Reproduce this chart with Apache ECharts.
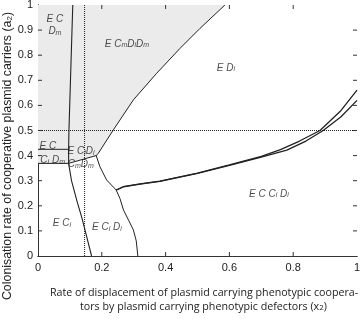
<!DOCTYPE html>
<html>
<head>
<meta charset="utf-8">
<script src="https://cdn.jsdelivr.net/npm/echarts@6/dist/echarts.min.js"></script>
<style>
  html, body { margin: 0; padding: 0; background: #fff; }
  #chart { width: 360px; height: 319px; }
</style>
</head>
<body>
<div id="chart"></div>
<script>
// Region boundaries (x2, a2)
const grayRegion = [
  [0, 1], [0.586, 1], [0.508, 0.907], [0.445, 0.827], [0.372, 0.728],
  [0.299, 0.622], [0.236, 0.502], [0.189, 0.409], [0.182, 0.40],
  [0.097, 0.369], [0, 0.369]
];
const nearVertical = [
  [0.109, 1], [0.103, 0.75], [0.097, 0.5], [0.096, 0.425], [0.096, 0.369],
  [0.105, 0.3], [0.122, 0.22], [0.138, 0.15], [0.152, 0.08], [0.168, 0]
];
const upperStep = [[0, 0.425], [0.096, 0.425]];
const lowerStep = [[0, 0.369], [0.096, 0.369], [0.182, 0.40]];
const diagonal = [
  [0.182, 0.40], [0.189, 0.409], [0.236, 0.502], [0.299, 0.622],
  [0.372, 0.728], [0.445, 0.827], [0.508, 0.907], [0.586, 1]
];
const junctionDown = [
  [0.182, 0.402], [0.194, 0.356], [0.215, 0.303], [0.245, 0.263],
  [0.257, 0.229], [0.268, 0.183], [0.285, 0.14], [0.299, 0.104],
  [0.308, 0.06], [0.313, 0]
];
const rightCurveA = [
  [0.245, 0.263], [0.267, 0.276], [0.32, 0.287], [0.382, 0.298],
  [0.5, 0.33], [0.6, 0.363], [0.7, 0.397], [0.76, 0.424], [0.82, 0.458],
  [0.884, 0.5], [0.95, 0.58], [1, 0.661]
];
const rightCurveB = [
  [0.245, 0.262], [0.267, 0.275], [0.32, 0.286], [0.382, 0.297],
  [0.5, 0.329], [0.6, 0.361], [0.7, 0.394], [0.78, 0.422], [0.84, 0.458],
  [0.894, 0.5], [0.95, 0.555], [1, 0.62]
];
const dottedX = [[0.146, 0], [0.146, 1]];
const dottedY = [[0, 0.5], [1, 0.5]];

const xTicks = [0.2, 0.4, 0.6, 0.8];
const yTicks = [0.1, 0.2, 0.3, 0.4, 0.5, 0.6, 0.7, 0.8, 0.9];

// Region names: [x, y, text]
const regionLabels = [
  [0.053, 0.948, '{i|E C}'],
  [0.053, 0.90, '{i|D}{s|m}'],
  [0.279, 0.849, '{i|E C}{s|m}{i|D}{s|i}{i|D}{s|m}'],
  [0.589, 0.753, '{i|E D}{s|i}'],
  [0.031, 0.440, '{i|E C}'],
  [0.046, 0.386, '{i|C}{s|i}{i| D}{s|m}'],
  [0.135, 0.420, '{i|E C}{s|i}{i|D}{s|i}'],
  [0.134, 0.370, '{i|C}{s|m}{i|D}{s|m}'],
  [0.075, 0.135, '{i|E C}{s|i}'],
  [0.216, 0.118, '{i|E C}{s|i}{i| D}{s|i}'],
  [0.724, 0.251, '{i|E C C}{s|i}{i| D}{s|i}']
];

const chart = echarts.init(document.getElementById('chart'));

const lineSeries = (data, width, type) => ({
  type: 'line',
  data: data,
  showSymbol: false,
  symbol: 'none',
  smooth: false,
  silent: true,
  lineStyle: { color: '#222', width: width, type: type || 'solid' },
  z: 3
});

// inward ticks on all four sides (axisTick.inside did not flip them here)
const TICK = 4;
const tickSeries = (values, vertical) => ({
  type: 'custom',
  silent: true,
  z: 6,
  data: values.map((v) => [v, v]),
  renderItem: (params, api) => {
    const v = api.value(0);
    const a = vertical ? api.coord([0, v]) : api.coord([v, 0]);
    const b = vertical ? api.coord([1, v]) : api.coord([v, 1]);
    const style = { stroke: '#333', lineWidth: 1 };
    return {
      type: 'group',
      children: vertical
        ? [
            { type: 'line', shape: { x1: a[0], y1: a[1], x2: a[0] + TICK, y2: a[1] }, style },
            { type: 'line', shape: { x1: b[0], y1: b[1], x2: b[0] - TICK, y2: b[1] }, style }
          ]
        : [
            { type: 'line', shape: { x1: a[0], y1: a[1], x2: a[0], y2: a[1] - TICK }, style },
            { type: 'line', shape: { x1: b[0], y1: b[1], x2: b[0], y2: b[1] + TICK }, style }
          ]
    };
  }
});

const tickLabel = { fontFamily: 'Liberation Sans', fontSize: 11, color: '#222' };

chart.setOption({
  animation: false,
  grid: { left: 38, right: 3, top: 5, bottom: 63, outerBoundsMode: 'none', containLabel: false },
  xAxis: [
    {
      type: 'value', min: 0, max: 1, interval: 0.2,
      axisLine: { lineStyle: { color: '#333' } },
      axisTick: { show: false },
      axisLabel: { ...tickLabel, margin: 6, formatter: (v) => String(v) },
      splitLine: { show: false }
    },
    {
      type: 'value', min: 0, max: 1, interval: 0.2, position: 'top',
      axisLine: { lineStyle: { color: '#333' } },
      axisTick: { show: false },
      axisLabel: { show: false },
      splitLine: { show: false }
    }
  ],
  yAxis: [
    {
      type: 'value', min: 0, max: 1, interval: 0.1,
      axisLine: { show: true, lineStyle: { color: '#333' } },
      axisTick: { show: false },
      axisLabel: { ...tickLabel, margin: 5, formatter: (v) => String(+v.toFixed(1)) },
      splitLine: { show: false }
    },
    {
      type: 'value', min: 0, max: 1, interval: 0.1, position: 'right',
      axisLine: { show: true, lineStyle: { color: '#333' } },
      axisTick: { show: false },
      axisLabel: { show: false },
      splitLine: { show: false }
    }
  ],
  series: [
    {
      type: 'custom',
      silent: true,
      data: [0],
      z: 1,
      renderItem: (params, api) => ({
        type: 'polygon',
        shape: { points: grayRegion.map((p) => api.coord(p)) },
        style: { fill: '#ebebeb', stroke: 'none' }
      })
    },
    lineSeries(nearVertical, 1.1),
    lineSeries(upperStep, 1),
    lineSeries(lowerStep, 1),
    lineSeries(diagonal, 1),
    lineSeries(junctionDown, 1),
    lineSeries(rightCurveA, 1.3),
    lineSeries(rightCurveB, 1.3),
    lineSeries(dottedX, 1, 'dotted'),
    lineSeries(dottedY, 1, 'dotted'),
    tickSeries(xTicks, false),
    tickSeries(yTicks, true),
    {
      type: 'scatter',
      data: regionLabels,
      symbolSize: 0,
      silent: true,
      z: 5,
      label: {
        show: true,
        position: 'inside',
        formatter: (p) => p.data[2],
        rich: {
          i: { fontFamily: 'Liberation Sans', fontStyle: 'italic', fontSize: 10, color: '#222', lineHeight: 12, verticalAlign: 'bottom' },
          s: { fontFamily: 'Liberation Sans', fontStyle: 'italic', fontSize: 7, color: '#222', lineHeight: 7, verticalAlign: 'bottom' }
        }
      }
    }
  ],
  graphic: [
    {
      type: 'text', x: 8, y: 156, rotation: Math.PI / 2,
      style: {
        text: 'Colonisation rate of cooperative plasmid carriers (a{sub|2})',
        rich: { sub: { fontFamily: 'Liberation Sans', fontSize: 8, fill: '#222', verticalAlign: 'bottom', lineHeight: 7 } },
        fontFamily: 'Liberation Sans', fontSize: 12.4, fill: '#222',
        align: 'center', verticalAlign: 'middle'
      }
    },
    {
      type: 'text', left: 50, top: 287,
      style: { text: 'Rate of displacement of plasmid carrying phenotypic coopera-', fontFamily: 'Open Sans', fontSize: 10.7, fill: '#222' }
    },
    {
      type: 'text', left: 80, top: 301,
      style: {
        text: 'tors by plasmid carrying phenotypic defectors (x{sub|2})',
        rich: { sub: { fontFamily: 'Open Sans', fontSize: 8, fill: '#222', verticalAlign: 'bottom', lineHeight: 8 } },
        fontFamily: 'Open Sans', fontSize: 10.7, fill: '#222'
      }
    }
  ]
});
</script>
</body>
</html>
